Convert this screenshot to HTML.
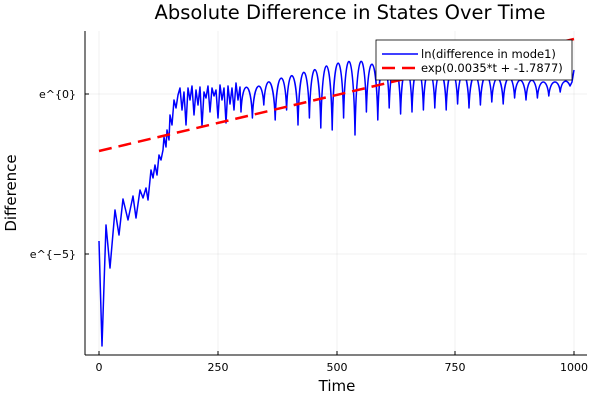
<!DOCTYPE html>
<html><head><meta charset="utf-8"><style>
body{margin:0;background:#fff}
svg{display:block;font-family:"DejaVu Sans","Liberation Sans",sans-serif}
</style></head><body>
<svg width="600" height="400" viewBox="0 0 600 400">
<rect width="600" height="400" fill="#fff"/>
<g stroke="#000" stroke-opacity="0.1" stroke-width="0.6">
<line x1="99" y1="31" x2="99" y2="354"/><line x1="218" y1="31" x2="218" y2="354"/>
<line x1="337" y1="31" x2="337" y2="354"/><line x1="455" y1="31" x2="455" y2="354"/>
<line x1="574" y1="31" x2="574" y2="354"/>
<line x1="85" y1="94" x2="587" y2="94"/><line x1="85" y1="254" x2="587" y2="254"/>
</g>
<path fill="none" stroke="#0000ff" stroke-width="1.5" stroke-linejoin="round" d="M99,241 L102,346 L106,225 L110,268 L115,210 L119,235 L123,199 L128,220 L133,196 L136,218 L140,190 L143,198 L146,188 L148,200 L151,170 L153,178 L155,165 L157,175 L159,155 L161,160 L163,150 L164,137 L166,147 L167,130 L169,140 L170,115 L172,125 L174,100 L176,108 L178,95 L180,88 L182,110 L184,92 L186,125 L188,88 L190,100 L192,86 L194,115 L196,90 L198,105 L200,87 L202,126 L204,92 L206,98 L208,86 L210,112 L212,88 L214,96 L216,90 L218,118 L220,85 L222,100 L224,88 L226,123 L228,86 L230,104 L232,88 L234,110 L236,83 L238,100 L240,87 L241,112
C242.5,78 250.9,78 252.4,118
C253.9,78 262.3,78 263.8,105
C265.3,72 273.7,72 275.2,120
C276.7,66 285.1,66 286.6,110
C288.1,62 296.5,62 298,125
C299.5,56 307.9,56 309.4,118
C310.9,52 319.3,52 320.8,128
C322.3,45 330.7,45 332.2,130
C333.7,43 342.1,43 343.6,118
C345.1,40 353.5,40 355,135
C356.5,41 364.9,41 366.4,112
C367.9,47 376.3,47 377.8,120
C379.3,47 387.7,47 389.2,108
C390.7,51 399.1,51 400.6,114
C402.1,53 410.5,53 412,112
C413.5,54 421.9,54 423.4,110
C424.9,57 433.3,57 434.8,108
C436.3,60 444.7,60 446.2,110
C447.7,60 456.1,60 457.6,104
C459.1,63 467.5,63 469,108
C470.5,65 478.9,65 480.4,105
C481.9,66 490.3,66 491.8,102
C493.3,70 501.7,70 503.2,104
C504.7,70 513.1,70 514.6,98
C516.1,74 524.5,74 526,100
C527.5,74 535.9,74 537.4,98
C538.9,77 547.3,77 548.8,96
C550.3,78 558.7,78 560.2,92
C561.7,80 567,78 570,86 L572,82 L574,70"/>
<line x1="99" y1="151" x2="574" y2="39" stroke="#ff0000" stroke-width="2.5" stroke-dasharray="13,7"/>
<g stroke="#000" stroke-width="1">
<line x1="85" y1="31" x2="85" y2="355"/><line x1="85" y1="355" x2="587" y2="355"/>
<line x1="99" y1="355" x2="99" y2="351"/><line x1="218" y1="355" x2="218" y2="351"/>
<line x1="337" y1="355" x2="337" y2="351"/><line x1="455" y1="355" x2="455" y2="351"/>
<line x1="574" y1="355" x2="574" y2="351"/>
<line x1="85" y1="94" x2="89" y2="94"/><line x1="85" y1="254" x2="89" y2="254"/>
</g>
<g font-size="11" fill="#000" text-anchor="middle">
<text x="99" y="371">0</text><text x="218" y="371">250</text><text x="337" y="371">500</text>
<text x="455" y="371">750</text><text x="574" y="371">1000</text>
</g>
<g font-size="11" text-anchor="end"><text x="76" y="98">e^{0}</text><text x="76" y="258">e^{−5}</text></g>
<text x="337" y="391" font-size="15" text-anchor="middle">Time</text>
<text x="16" y="193" font-size="15" text-anchor="middle" transform="rotate(-90 16 193)">Difference</text>
<text x="350" y="19" font-size="19.5" text-anchor="middle">Absolute Difference in States Over Time</text>
<rect x="376" y="40" width="196" height="40" fill="#fff" stroke="#000" stroke-width="0.8"/>
<line x1="382" y1="54" x2="418" y2="54" stroke="#0000ff" stroke-width="1.5"/>
<line x1="382" y1="68" x2="418" y2="68" stroke="#ff0000" stroke-width="2.5" stroke-dasharray="13,7"/>
<text x="421" y="58" font-size="11.5">ln(difference in mode1)</text>
<text x="421" y="72" font-size="11.5">exp(0.0035*t + -1.7877)</text>
</svg>
</body></html>
